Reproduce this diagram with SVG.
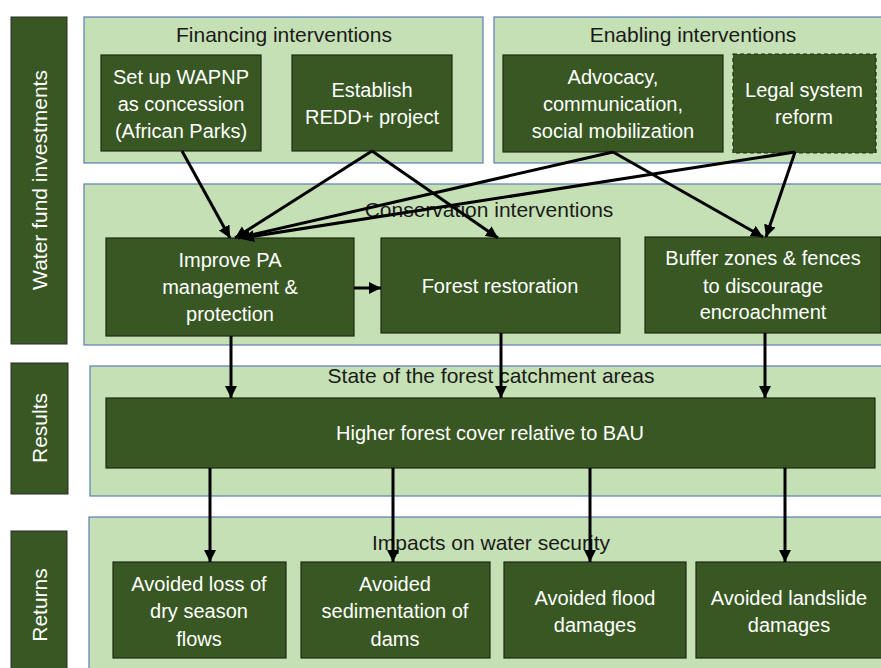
<svg xmlns="http://www.w3.org/2000/svg" width="881" height="668" viewBox="0 0 881 668">
<defs>
<style>
.panel{fill:#c5e0b4;stroke:#5b7db8;stroke-width:1.2}
.node{fill:#385723;stroke:#1e2a14;stroke-width:1.2}
.dash{stroke-dasharray:4 3}
.side{fill:#385723;stroke:#2a2a2a;stroke-width:1}
.t{font-family:"Liberation Sans",Arial,sans-serif;font-size:20px;fill:#ffffff;text-anchor:middle}
.h{font-family:"Liberation Sans",Arial,sans-serif;font-size:21px;fill:#1a1a1a;text-anchor:middle}
.s{font-family:"Liberation Sans",Arial,sans-serif;font-size:21px;fill:#ffffff;text-anchor:middle}
.c{fill:none;stroke:#000;stroke-width:3;marker-end:url(#ah)}
</style>
<marker id="ah" markerUnits="userSpaceOnUse" markerWidth="14" markerHeight="14" refX="12" refY="6" orient="auto" viewBox="0 0 14 12">
<path d="M0,0 L12,6 L0,12 Z" fill="#000"/>
</marker>
</defs>
<rect width="881" height="668" fill="#ffffff"/>

<g id="side-water-fund"><rect class="side" x="11" y="17" width="56" height="327"/><text class="s" transform="translate(47,180) rotate(-90)">Water fund investments</text></g>
<g id="side-results"><rect class="side" x="11" y="363" width="57" height="131"/><text class="s" transform="translate(47,428) rotate(-90)">Results</text></g>
<g id="side-returns"><rect class="side" x="11" y="531" width="56" height="150"/><text class="s" transform="translate(47,605) rotate(-90)">Returns</text></g>

<g id="panel-financing"><rect class="panel" x="84" y="17" width="399" height="146"/><text class="h" x="284" y="42">Financing interventions</text></g>
<g id="panel-enabling"><rect class="panel" x="494" y="17" width="395" height="146"/><text class="h" x="693" y="42">Enabling interventions</text></g>
<g id="panel-conservation"><rect class="panel" x="84" y="184" width="805" height="161"/><text class="h" x="489" y="217">Conservation interventions</text></g>
<g id="panel-results"><rect class="panel" x="90" y="366" width="799" height="130"/><text class="h" x="491" y="383">State of the forest catchment areas</text></g>
<g id="panel-returns"><rect class="panel" x="89" y="517" width="800" height="165"/><text class="h" x="491" y="550">Impacts on water security</text></g>

<g id="node-wapnp"><rect class="node" x="101" y="55" width="160" height="96"/><text class="t" x="181" y="84">Set up WAPNP</text><text class="t" x="181" y="111">as concession</text><text class="t" x="181" y="138">(African Parks)</text></g>
<g id="node-redd"><rect class="node" x="292" y="55" width="160" height="96"/><text class="t" x="372" y="97">Establish</text><text class="t" x="372" y="124">REDD+ project</text></g>
<g id="node-advocacy"><rect class="node" x="503" y="55" width="220" height="97"/><text class="t" x="613" y="84">Advocacy,</text><text class="t" x="613" y="111">communication,</text><text class="t" x="613" y="138">social mobilization</text></g>
<g id="node-legal"><rect class="node dash" x="733" y="54" width="143" height="99"/><text class="t" x="804" y="97">Legal system</text><text class="t" x="804" y="124">reform</text></g>

<g id="node-improve-pa"><rect class="node" x="106" y="238" width="248" height="98"/><text class="t" x="230" y="267">Improve PA</text><text class="t" x="230" y="294">management &amp;</text><text class="t" x="230" y="321">protection</text></g>
<g id="node-forest-restoration"><rect class="node" x="381" y="238" width="239" height="95"/><text class="t" x="500" y="293">Forest restoration</text></g>
<g id="node-buffer"><rect class="node" x="645" y="237" width="236" height="96"/><text class="t" x="763" y="265">Buffer zones &amp; fences</text><text class="t" x="763" y="293">to discourage</text><text class="t" x="763" y="319">encroachment</text></g>

<g id="node-higher-cover"><rect class="node" x="106" y="398" width="769" height="70"/><text class="t" x="490" y="440">Higher forest cover relative to BAU</text></g>

<g id="node-dry-season"><rect class="node" x="113" y="562" width="173" height="96"/><text class="t" x="199" y="591">Avoided loss of</text><text class="t" x="199" y="618">dry season</text><text class="t" x="199" y="646">flows</text></g>
<g id="node-sedimentation"><rect class="node" x="301" y="562" width="189" height="96"/><text class="t" x="395" y="591">Avoided</text><text class="t" x="395" y="618">sedimentation of</text><text class="t" x="395" y="646">dams</text></g>
<g id="node-flood"><rect class="node" x="504" y="562" width="182" height="96"/><text class="t" x="595" y="605">Avoided flood</text><text class="t" x="595" y="632">damages</text></g>
<g id="node-landslide"><rect class="node" x="696" y="562" width="190" height="96"/><text class="t" x="789" y="605">Avoided landslide</text><text class="t" x="789" y="632">damages</text></g>

<g id="connectors">
<path class="c" d="M182,151 L230,238"/>
<path class="c" d="M372,151 L235,238"/>
<path class="c" d="M372,151 L498,238"/>
<path class="c" d="M613,152 L238,238"/>
<path class="c" d="M613,152 L763,237"/>
<path class="c" d="M795,152 L242,238"/>
<path class="c" d="M795,152 L766,237"/>
<path class="c" d="M354,288 L381,288"/>
<path class="c" d="M231,336 L231,398"/>
<path class="c" d="M501,333 L501,398"/>
<path class="c" d="M765,333 L765,398"/>
<path class="c" d="M210,468 L210,562"/>
<path class="c" d="M393,468 L393,562"/>
<path class="c" d="M590,468 L590,562"/>
<path class="c" d="M785,468 L785,562"/>
</g>
</svg>
